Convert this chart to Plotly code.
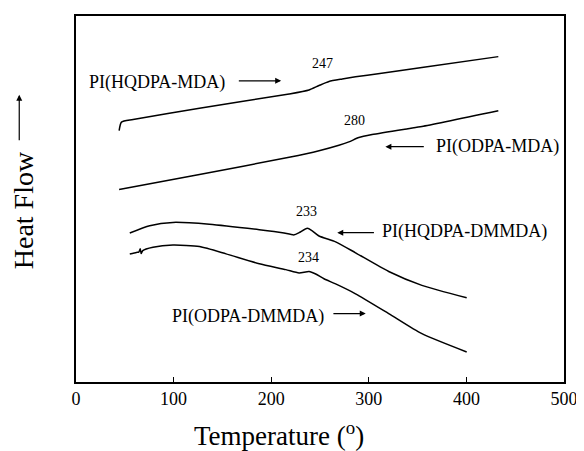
import plotly.graph_objects as go

# ---- data (temperature in deg, heat flow in arbitrary units) ----
hq_mda_T = [44.2, 46.6, 58.5, 126.5, 218.4, 238.8, 249.0, 259.2, 272.8, 286.4, 309.5, 354.4, 432.7]
hq_mda_Y = [68.7, 71.0, 71.7, 74.8, 78.7, 79.8, 81.0, 82.1, 82.8, 83.4, 84.2, 85.9, 88.9]

od_mda_T = [44.2, 126.5, 218.4, 249.0, 269.4, 279.6, 289.8, 303.4, 340.1, 354.4, 432.7]
od_mda_Y = [52.6, 56.7, 61.4, 63.2, 64.7, 65.6, 66.8, 67.6, 69.2, 69.8, 74.1]

hq_dm_T = [55.1, 75.5, 99.3, 136.7, 187.8, 211.5, 223.5, 228.6, 237.0, 242.1, 249.0, 266.0, 286.4, 320.4, 354.4, 400.3]
hq_dm_Y = [40.7, 42.7, 43.6, 43.1, 41.6, 40.8, 40.2, 40.8, 42.0, 41.3, 39.9, 38.3, 35.3, 30.2, 26.4, 23.0]

od_dm_T = [55.1, 61.9, 64.3, 65.8, 66.8, 68.4, 78.9, 99.3, 126.5, 153.8, 187.8, 215.0, 228.6, 238.8, 245.6, 254.1, 266.0, 286.4, 320.4, 354.4, 400.3]
od_dm_Y = [35.0, 35.4, 35.5, 36.4, 35.1, 35.9, 36.8, 37.4, 37.0, 35.0, 32.3, 30.7, 29.8, 30.2, 29.5, 28.2, 26.8, 24.1, 18.7, 13.2, 8.2]

x_ticks = [0, 100, 200, 300, 400, 500]

# transition labels: text, T, Y
tg_labels = ["247", "280", "233", "234"]
tg_T = [252.6, 285.7, 236.2, 237.8]
tg_Y = [87.0, 71.5, 46.7, 34.1]

# series labels: text, T, Y, anchor, arrow tail T, arrow head T, arrow Y
name_text = ["PI(HQDPA-MDA)", "PI(ODPA-MDA)", "PI(HQDPA-DMMDA)", "PI(ODPA-DMMDA)"]
name_T = [155.1, 366.3, 311.2, 256.1]
name_Y = [81.8, 64.4, 41.0, 17.9]
name_anchor = ["right", "left", "left", "right"]
arrow_tail_T = [165.3, 357.9, 306.8, 262.2]
arrow_head_T = [210.2, 317.0, 267.7, 296.9]
arrow_Y = [82.3, 64.3, 40.8, 18.7]

FONT = "Liberation Serif, Times New Roman, serif"

fig = go.Figure()
for T, Y in [(hq_mda_T, hq_mda_Y), (od_mda_T, od_mda_Y), (hq_dm_T, hq_dm_Y), (od_dm_T, od_dm_Y)]:
    fig.add_trace(go.Scatter(x=T, y=Y, mode="lines",
                             line=dict(color="black", width=1.5, shape="spline", smoothing=0.6),
                             showlegend=False, hoverinfo="skip"))

annotations = []
for t, x, y in zip(tg_labels, tg_T, tg_Y):
    annotations.append(dict(x=x, y=y, xref="x", yref="y", text=t, showarrow=False,
                            font=dict(family=FONT, size=14, color="black")))
for t, x, y, a in zip(name_text, name_T, name_Y, name_anchor):
    annotations.append(dict(x=x, y=y, xref="x", yref="y", text=t, showarrow=False,
                            xanchor=a, font=dict(family=FONT, size=18, color="black")))
for tail, head, y in zip(arrow_tail_T, arrow_head_T, arrow_Y):
    annotations.append(dict(x=head, y=y, xref="x", yref="y", ax=tail, ay=y,
                            axref="x", ayref="y", text="", showarrow=True,
                            arrowhead=2, arrowsize=1, arrowwidth=1.2, arrowcolor="black",
                            standoff=0, startstandoff=0))
# axis titles
annotations.append(dict(x=0.4163, y=-0.1413, xref="paper", yref="paper",
                        text="Temperature (<sup>o</sup>)", showarrow=False,
                        xanchor="center", yanchor="middle",
                        font=dict(family=FONT, size=27, color="black")))
annotations.append(dict(x=-0.106, y=0.470, xref="paper", yref="paper",
                        text="Heat Flow", showarrow=False, textangle=-90,
                        xanchor="center", yanchor="middle",
                        font=dict(family=FONT, size=28, color="black")))
annotations.append(dict(x=-0.1163, y=0.785, xref="paper", yref="paper",
                        ax=0, ay=47, text="", showarrow=True,
                        arrowhead=2, arrowsize=1, arrowwidth=1.2, arrowcolor="black"))

# the page body has an 8px margin, so the figure is offset by 8px
fig.update_layout(
    width=576, height=443,
    margin=dict(l=68, r=18, t=6, b=69),
    paper_bgcolor="white", plot_bgcolor="white",
    annotations=annotations,
    xaxis=dict(range=[0, 500], tickvals=x_ticks, ticks="inside", ticklen=5,
               tickcolor="black", tickwidth=1.2, showgrid=False, zeroline=False,
               showline=True, linecolor="black", linewidth=1.5, mirror=True,
               tickfont=dict(family=FONT, size=18, color="black")),
    yaxis=dict(range=[0, 100], showticklabels=False, ticks="", showgrid=False,
               zeroline=False, showline=True, linecolor="black", linewidth=1.5,
               mirror=True),
)

fig.write_html("out.html")
